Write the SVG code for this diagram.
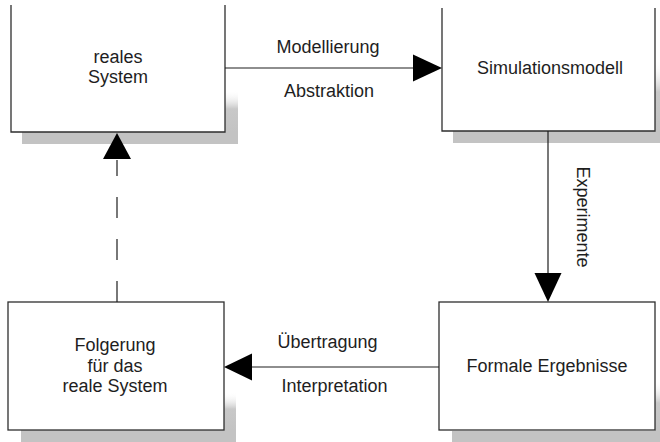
<svg xmlns="http://www.w3.org/2000/svg" width="660" height="442" viewBox="0 0 660 442">
  <style>
    .box { fill: #ffffff; stroke: #2e2e2e; stroke-width: 1.3; }
    .shadow { fill: #c3c3c3; }
    .fade { fill: url(#shadeUp); }
    .lbl { font-family: "Liberation Sans", Arial, sans-serif; font-size: 18px; fill: #1e1e1e; text-anchor: middle; }
    .line { stroke: #1e1e1e; stroke-width: 1.2; fill: none; }
    .dash { stroke-dasharray: 21 21; }
    .head { fill: #000000; }
  </style>
  <defs>
    <linearGradient id="shadeUp" x1="0" y1="1" x2="0" y2="0">
      <stop offset="0" stop-color="#c3c3c3"/>
      <stop offset="0.55" stop-color="#c8c8c8"/>
      <stop offset="1" stop-color="#ffffff" stop-opacity="0"/>
    </linearGradient>
  </defs>
  <rect width="660" height="442" fill="#ffffff"/>

  <!-- node: real system -->
  <g id="reales-system">
    <rect class="shadow" x="22" y="132" width="216" height="12"/>
    <rect class="fade" x="225" y="90" width="13" height="42"/>
    <rect x="11" y="0" width="214" height="132" fill="#ffffff"/>
    <path class="box" d="M11 5 V132 H225 V5" fill="none"/>
    <text class="lbl" x="118" y="63">reales</text>
    <text class="lbl" x="118" y="83">System</text>
  </g>

  <!-- node: simulation model -->
  <g id="simulationsmodell">
    <rect class="shadow" x="453" y="131" width="207" height="12"/>
    <rect class="fade" x="655" y="60" width="5" height="71"/>
    <rect x="442" y="0" width="213" height="131" fill="#ffffff"/>
    <path class="box" d="M442 8 V131 H655 V8" fill="none"/>
    <text class="lbl" x="550" y="74">Simulationsmodell</text>
  </g>

  <!-- node: conclusions for the real system -->
  <g id="folgerung">
    <rect class="shadow" x="21" y="430" width="215" height="12"/>
    <rect class="fade" x="224" y="392" width="12" height="38"/>
    <rect class="box" x="8" y="302" width="216" height="128"/>
    <text class="lbl" x="115" y="351">Folgerung</text>
    <text class="lbl" x="115" y="371.5">für das</text>
    <text class="lbl" x="115" y="392">reale System</text>
  </g>

  <!-- node: formal results -->
  <g id="formale-ergebnisse">
    <rect class="shadow" x="452" y="431" width="208" height="11"/>
    <rect class="fade" x="655" y="380" width="5" height="51"/>
    <rect class="box" x="439" y="302" width="216" height="128"/>
    <text class="lbl" x="547" y="372">Formale Ergebnisse</text>
  </g>

  <!-- connectors -->
  <g id="connectors">
    <!-- Modellierung / Abstraktion -->
    <line class="line" x1="225" y1="68" x2="414" y2="68"/>
    <polygon class="head" points="442,68 413,54.5 413,81.5"/>
    <text class="lbl" x="328" y="53">Modellierung</text>
    <text class="lbl" x="329" y="97">Abstraktion</text>

    <!-- Experimente -->
    <line class="line" x1="548" y1="131" x2="548" y2="274"/>
    <polygon class="head" points="548,302 534.5,273 561.5,273"/>
    <text class="lbl" transform="translate(577 217) rotate(90)">Experimente</text>

    <!-- Übertragung / Interpretation -->
    <line class="line" x1="439" y1="367" x2="251" y2="367"/>
    <polygon class="head" points="224,367 252,353.5 252,380.5"/>
    <text class="lbl" x="327.5" y="348">Übertragung</text>
    <text class="lbl" x="334.5" y="392">Interpretation</text>

    <!-- feedback to the real system (dashed) -->
    <path class="line dash" d="M117 302 V160"/>
    <polygon class="head" points="117,133 103,159 131,159"/>
  </g>
</svg>
